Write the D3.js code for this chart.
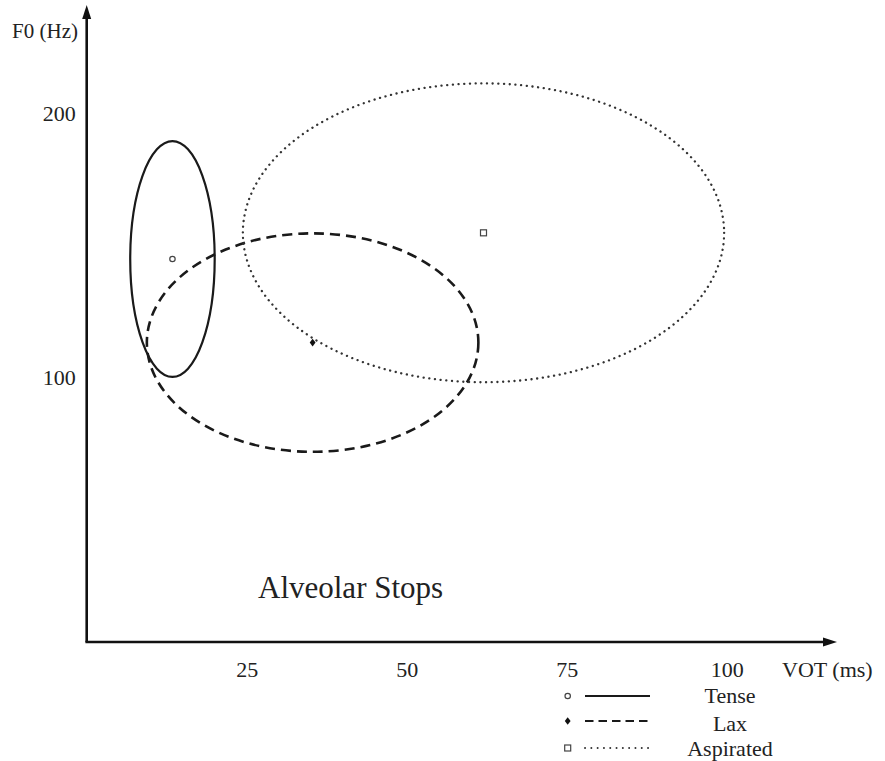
<!DOCTYPE html>
<html>
<head>
<meta charset="utf-8">
<script src="https://cdn.jsdelivr.net/npm/d3@7"></script>
<style>
  html, body { margin: 0; padding: 0; background: #fff; }
  svg { display: block; }
  text { font-family: "Liberation Serif", "DejaVu Serif", serif; fill: #222; }
</style>
</head>
<body>
<svg id="chart" width="885" height="761"></svg>
<script>
// Stop categories
const categories = ["Tense", "Lax", "Aspirated"];
// Mean VOT (ms) and mean F0 (Hz) per category
const meanVOT = [13.4, 35.3, 62.0];
const meanF0 = [144.8, 113.2, 154.7];
// Spread of each distribution (ellipse radii) in VOT (ms) and F0 (Hz)
const spreadVOT = [6.6, 25.9, 37.6];
const spreadF0 = [44.6, 41.3, 56.5];
// Axis tick labels
const xTicks = [25, 50, 75, 100];
const yTicks = [100, 200];

const svg = d3.select("#chart");

const left = 86.7, bottom = 642;
const x = d3.scaleLinear().domain([0, 100]).range([left, 726.7]);
const y = d3.scaleLinear().domain([0, 200]).range([bottom, 113]);

const styles = {
  Tense: { dash: null, width: 2.2, color: "#1a1a1a", cap: "butt" },
  Lax: { dash: "10,6", width: 2.6, color: "#1a1a1a", cap: "butt" },
  Aspirated: { dash: "0.1,5.6", width: 2.3, color: "#333", cap: "round" }
};

const data = categories.map((c, i) => ({
  name: c, vot: meanVOT[i], f0: meanF0[i], sv: spreadVOT[i], sf: spreadF0[i]
}));

// Ellipses for each category
svg.append("g").selectAll("ellipse").data(data).join("ellipse")
  .attr("cx", d => x(d.vot))
  .attr("cy", d => y(d.f0))
  .attr("rx", d => x(d.vot + d.sv) - x(d.vot))
  .attr("ry", d => y(d.f0) - y(d.f0 + d.sf))
  .attr("fill", "none")
  .attr("stroke", d => styles[d.name].color)
  .attr("stroke-width", d => styles[d.name].width)
  .attr("stroke-linecap", d => styles[d.name].cap)
  .attr("stroke-dasharray", d => styles[d.name].dash);

// Category mean markers
function drawMarker(g, name, cx, cy) {
  if (name === "Tense") {
    g.append("circle").attr("cx", cx).attr("cy", cy).attr("r", 2.7)
      .attr("fill", "#fff").attr("stroke", "#444").attr("stroke-width", 1.2);
  } else if (name === "Lax") {
    g.append("path")
      .attr("d", `M${cx},${cy - 3.8}L${cx + 2.9},${cy}L${cx},${cy + 3.8}L${cx - 2.9},${cy}Z`)
      .attr("fill", "#111");
  } else {
    g.append("rect").attr("x", cx - 3).attr("y", cy - 3).attr("width", 6).attr("height", 6)
      .attr("fill", "#fff").attr("stroke", "#444").attr("stroke-width", 1.2);
  }
}
const markers = svg.append("g");
data.forEach(d => drawMarker(markers, d.name, x(d.vot), y(d.f0)));

// Axes with arrowheads
const axisG = svg.append("g");
axisG.append("line").attr("x1", left).attr("y1", bottom).attr("x2", left).attr("y2", 14)
  .attr("stroke", "#111").attr("stroke-width", 2.6);
axisG.append("line").attr("x1", left - 1.3).attr("y1", bottom).attr("x2", 826).attr("y2", bottom)
  .attr("stroke", "#111").attr("stroke-width", 2.6);
axisG.append("path").attr("d", `M${left},5L${left + 4.5},19L${left - 4.5},19Z`).attr("fill", "#111");
axisG.append("path").attr("d", `M837,${bottom}L823,${bottom - 4.5}L823,${bottom + 4.5}Z`).attr("fill", "#111");

// Tick labels via axis generators
const xAxis = svg.append("g").attr("transform", `translate(0,${bottom})`)
  .call(d3.axisBottom(x).tickValues(xTicks).tickSize(0).tickPadding(0).tickFormat(d3.format("d")));
xAxis.select(".domain").remove();
xAxis.selectAll("text").attr("y", 35).attr("dy", null)
  .style("font-size", "22px").style("font-family", "Liberation Serif, serif").attr("fill", "#222");

const yAxis = svg.append("g").attr("transform", `translate(${left},0)`)
  .call(d3.axisLeft(y).tickValues(yTicks).tickSize(0).tickPadding(11).tickFormat(d3.format("d")));
yAxis.select(".domain").remove();
yAxis.selectAll("text").attr("dy", "0.34em")
  .style("font-size", "22px").style("font-family", "Liberation Serif, serif").attr("fill", "#222");

// Axis titles
svg.append("text").attr("x", 78).attr("y", 38).attr("text-anchor", "end")
  .style("font-size", "21px").text("F0 (Hz)");
svg.append("text").attr("x", 782).attr("y", 677).attr("text-anchor", "start")
  .style("font-size", "22px").text("VOT (ms)");

// Panel title
svg.append("text").attr("x", 258).attr("y", 598)
  .style("font-size", "31px").text("Alveolar Stops");

// Legend
const legendY = [696, 721, 748];
const legendTextY = [703, 731, 756];
categories.forEach((c, i) => {
  const g = svg.append("g");
  drawMarker(g, c, 567.7, legendY[i]);
  g.append("line").attr("x1", 585).attr("x2", 650).attr("y1", legendY[i]).attr("y2", legendY[i])
    .attr("stroke", styles[c].color)
    .attr("stroke-width", c === "Aspirated" ? 1.9 : 2.2)
    .attr("stroke-linecap", styles[c].cap)
    .attr("stroke-dasharray", c === "Lax" ? "8.5,5" : (c === "Aspirated" ? "0.1,6.2" : null));
  g.append("text").attr("x", 730).attr("y", legendTextY[i]).attr("text-anchor", "middle")
    .style("font-size", "22px").text(c);
});
</script>
</body>
</html>
